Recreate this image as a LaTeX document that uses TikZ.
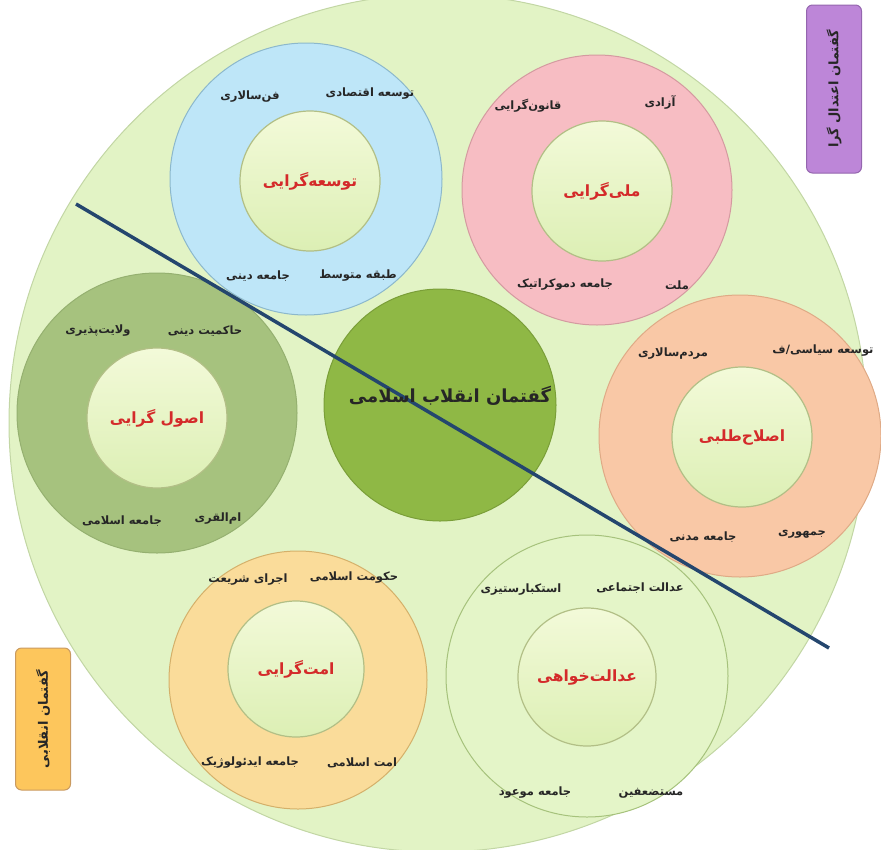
\documentclass[tikz,border=0pt]{standalone}
\usepackage{fontspec}
\newfontfamily\arabicfont[Script=Arabic]{DejaVu Sans}
\TeXXeTstate=1
\newcommand{\pers}[1]{{\arabicfont\beginR #1\endR}}
\definecolor{bigfill}{HTML}{E2F3C5}
\definecolor{bigdraw}{HTML}{C2D6A4}
\definecolor{bluefill}{HTML}{BEE6F8}
\definecolor{bluedraw}{HTML}{8CB8CC}
\definecolor{pinkfill}{HTML}{F7BDC3}
\definecolor{pinkdraw}{HTML}{D49AA0}
\definecolor{greenfill}{HTML}{A6C27E}
\definecolor{greendraw}{HTML}{95B070}
\definecolor{orangefill}{HTML}{F9C8A6}
\definecolor{orangedraw}{HTML}{DFAA86}
\definecolor{yellowfill}{HTML}{FADC9A}
\definecolor{yellowdraw}{HTML}{D4B06A}
\definecolor{lgfill}{HTML}{E4F5C8}
\definecolor{lgdraw}{HTML}{A6C27C}
\definecolor{centerfill}{HTML}{8FB845}
\definecolor{centerdraw}{HTML}{7A9E38}
\definecolor{innertop}{HTML}{F3FAD9}
\definecolor{innerbot}{HTML}{DCEFB4}
\definecolor{innerdraw}{HTML}{B2BF86}
\definecolor{redtext}{HTML}{D42A2A}
\definecolor{linecol}{HTML}{24466E}
\definecolor{purplebox}{HTML}{BD86D8}
\definecolor{purpledraw}{HTML}{9466AE}
\definecolor{goldbox}{HTML}{FDC65C}
\definecolor{golddraw}{HTML}{C99A60}
\begin{document}
\begin{tikzpicture}[x=1pt,y=-1pt,
  ring/.style={circle, inner sep=0pt, line width=1pt},
  innerc/.style={circle, inner sep=0pt, minimum size=140pt, draw=innerdraw, line width=1.2pt, top color=innertop, bottom color=innerbot},
  lbl/.style={font=\fontsize{11.5}{13}\selectfont\bfseries, text=black!85, inner sep=1pt},
  title/.style={font=\fontsize{15.5}{18}\selectfont\bfseries, text=redtext, inner sep=1pt},
  sidebox/.style={rounded corners=6pt, line width=1pt, minimum width=168pt, minimum height=55pt, rotate=90, font=\fontsize{13}{15}\selectfont\bfseries, text=black!85}
]
\useasboundingbox (0,0) rectangle (881,849);
% big circle
\node[ring, minimum size=858pt, fill=bigfill, draw=bigdraw] (big) at (438,423) {};
% centre
\node[ring, minimum size=232pt, fill=centerfill, draw=centerdraw] (core) at (440,405) {};
% outer rings
\node[ring, minimum size=272pt, fill=bluefill, draw=bluedraw] (blue) at (306,179) {};
\node[ring, minimum size=270pt, fill=pinkfill, draw=pinkdraw] (pink) at (597,190) {};
\node[ring, minimum size=280pt, fill=greenfill, draw=greendraw] (green) at (157,413) {};
\node[ring, minimum size=282pt, fill=orangefill, draw=orangedraw] (orange) at (740,436) {};
\node[ring, minimum size=258pt, fill=yellowfill, draw=yellowdraw] (yellow) at (298,680) {};
\node[ring, minimum size=282pt, fill=lgfill, draw=lgdraw] (lg) at (587,676) {};
% inner circles
\node[innerc] (iblue) at (310,181) {};
\node[innerc] (ipink) at (602,191) {};
\node[innerc] (igreen) at (157,418) {};
\node[innerc] (iorange) at (742,437) {};
\node[innerc, minimum size=136pt] (iyellow) at (296,669) {};
\node[innerc, minimum size=138pt] (ilg) at (587,677) {};
% divider
\coordinate (d1) at (76,204);
\coordinate (d2) at (829,648);
\draw[linecol, line width=3.5pt] (d1) -- (d2);
% centre label
\node[font=\fontsize{18}{21}\selectfont\bfseries, text=black!85] (coretxt) at (450,396) {\pers{گفتمان انقلاب اسلامی}};
% titles
\node[title] at (iblue) {\pers{توسعه‌گرایی}};
\node[title] at (ipink) {\pers{ملی‌گرایی}};
\node[title] at (igreen) {\pers{اصول گرایی}};
\node[title] at (iorange) {\pers{اصلاح‌طلبی}};
\node[title] at (iyellow) {\pers{امت‌گرایی}};
\node[title] at (ilg) {\pers{عدالت‌خواهی}};
% blue labels
\node[lbl] at (370,94) {\pers{توسعه اقتصادی}};
\node[lbl] at (250,97) {\pers{فن‌سالاری}};
\node[lbl] at (358,276) {\pers{طبقه متوسط}};
\node[lbl] at (258,276) {\pers{جامعه دینی}};
% pink labels
\node[lbl] at (660,102) {\pers{آزادی}};
\node[lbl] at (528,106) {\pers{قانون‌گرایی}};
\node[lbl] at (677,285) {\pers{ملت}};
\node[lbl] at (565,285) {\pers{جامعه دموکراتیک}};
% green labels
\node[lbl] at (205,331) {\pers{حاکمیت دینی}};
\node[lbl] at (98,331) {\pers{ولایت‌پذیری}};
\node[lbl] at (218,519) {\pers{ام‌القری}};
\node[lbl] at (122,521) {\pers{جامعه اسلامی}};
% orange labels
\node[lbl] at (823,351) {\pers{توسعه سیاسی/ف}};
\node[lbl] at (673,354) {\pers{مردم‌سالاری}};
\node[lbl] at (802,534) {\pers{جمهوری}};
\node[lbl] at (703,537) {\pers{جامعه مدنی}};
% yellow labels
\node[lbl] at (354,578) {\pers{حکومت اسلامی}};
\node[lbl] at (248,580) {\pers{اجرای شریعت}};
\node[lbl] at (362,763) {\pers{امت اسلامی}};
\node[lbl] at (250,763) {\pers{جامعه ایدئولوژیک}};
% light green labels
\node[lbl] at (640,588) {\pers{عدالت اجتماعی}};
\node[lbl] at (521,590) {\pers{استکبارستیزی}};
\node[lbl] at (651,793) {\pers{مستضعفین}};
\node[lbl] at (535,793) {\pers{جامعه موعود}};
% side boxes
\node[sidebox, fill=purplebox, draw=purpledraw] (moderate) at (834,89) {\pers{گفتمان اعتدال گرا}};
\node[sidebox, fill=goldbox, draw=golddraw, minimum width=142pt] (revol) at (43,719) {\pers{گفتمان انقلابی}};
\end{tikzpicture}
\end{document}
